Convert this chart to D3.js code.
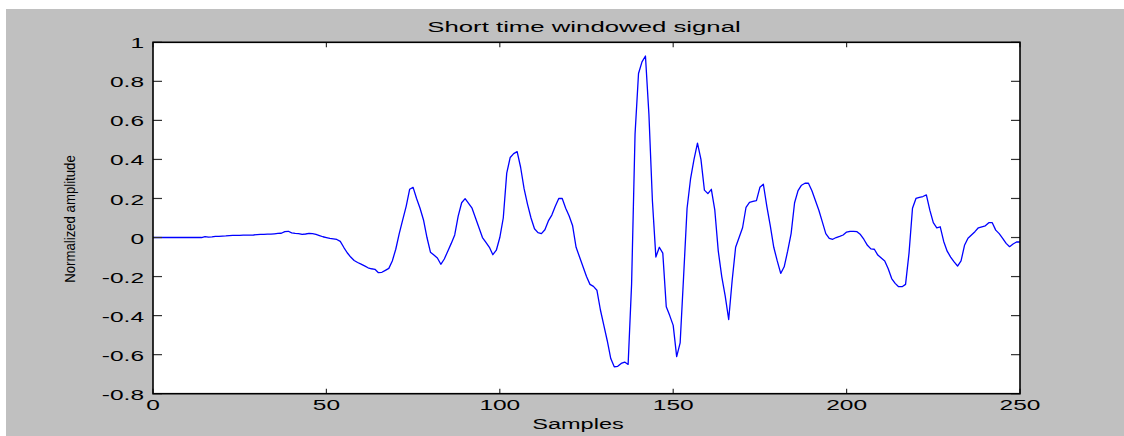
<!DOCTYPE html>
<html>
<head>
<meta charset="utf-8">
<script src="https://cdn.jsdelivr.net/npm/d3@7"></script>
<style>
  html, body { margin: 0; padding: 0; background: #ffffff; }
  svg text { font-family: "Liberation Sans", Arial, sans-serif; fill: #000; }
</style>
</head>
<body>
<svg id="chart" width="1124" height="436"></svg>
<script>

// amplitude per sample, 0..250
var amplitude = [
  0, 0, 0, 0, 0, 0, 0, 0, 0, 0,
  0, 0, 0, 0, 0, 0.005, 0.002, 0.003, 0.006, 0.006,
  0.007, 0.008, 0.01, 0.011, 0.011, 0.011, 0.012, 0.012, 0.012, 0.013,
  0.015, 0.016, 0.016, 0.017, 0.017, 0.019, 0.021, 0.022, 0.03, 0.032,
  0.024, 0.021, 0.02, 0.016, 0.018, 0.021, 0.02, 0.016, 0.01, 0.004,
  0.0, -0.004, -0.007, -0.01, -0.02, -0.05, -0.078, -0.1, -0.118, -0.128,
  -0.136, -0.145, -0.155, -0.16, -0.163, -0.18, -0.178, -0.168, -0.158, -0.12,
  -0.06, 0.02, 0.09, 0.16, 0.247, 0.257, 0.2, 0.15, 0.09, 0.0,
  -0.075, -0.09, -0.105, -0.137, -0.11, -0.07, -0.03, 0.013, 0.11, 0.178,
  0.199, 0.175, 0.15, 0.1, 0.05, 0.0, -0.025, -0.05, -0.088, -0.065,
  0.0, 0.1, 0.33, 0.41, 0.43, 0.44, 0.36, 0.25, 0.17, 0.1,
  0.045, 0.025, 0.02, 0.04, 0.085, 0.115, 0.16, 0.2, 0.2, 0.15,
  0.11, 0.06, -0.05, -0.1, -0.15, -0.2, -0.24, -0.25, -0.27, -0.37,
  -0.45, -0.53, -0.62, -0.662, -0.66, -0.645, -0.638, -0.65, -0.24, 0.53,
  0.84, 0.9, 0.93, 0.63, 0.19, -0.1, -0.05, -0.08, -0.355, -0.4,
  -0.45, -0.61, -0.54, -0.2, 0.15, 0.3, 0.4, 0.483, 0.4, 0.243,
  0.225, 0.247, 0.14, -0.07, -0.2, -0.3, -0.42, -0.22, -0.05, 0.0,
  0.05, 0.155, 0.18, 0.185, 0.189, 0.257, 0.273, 0.16, 0.06, -0.05,
  -0.12, -0.184, -0.15, -0.07, 0.02, 0.178, 0.24, 0.268, 0.278, 0.278,
  0.24, 0.19, 0.14, 0.08, 0.02, -0.004, -0.009, 0.0, 0.006, 0.013,
  0.028, 0.032, 0.032, 0.03, 0.015, -0.01, -0.04, -0.058, -0.06, -0.09,
  -0.105, -0.12, -0.16, -0.21, -0.235, -0.252, -0.252, -0.24, -0.08, 0.15,
  0.2, 0.206, 0.21, 0.218, 0.14, 0.076, 0.05, 0.055, -0.02, -0.07,
  -0.1, -0.125, -0.146, -0.12, -0.04, -0.004, 0.013, 0.03, 0.05, 0.055,
  0.06, 0.076, 0.076, 0.038, 0.02, -0.004, -0.03, -0.047, -0.033, -0.023,
  -0.023
];

var xTicks = [0, 50, 100, 150, 200, 250];
var yTicks = [-0.8, -0.6, -0.4, -0.2, 0, 0.2, 0.4, 0.6, 0.8, 1];
var yTickLabels = ['-0.8', '-0.6', '-0.4', '-0.2', '0', '0.2', '0.4', '0.6', '0.8', '1'];

var title = 'Short time windowed signal';
var xTitle = 'Samples';
var yTitle = 'Normalized amplitude';

var margin = {top: 42.3, right: 104, bottom: 42.3, left: 153};
var width = 1124 - margin.left - margin.right;
var height = 436 - margin.top - margin.bottom;
var stretch = 1.75;   // the picture's text is wide

var svg = d3.select('#chart');

// grey figure background
svg.append('rect')
   .attr('x', 6).attr('y', 9)
   .attr('width', 1124 - 6).attr('height', 436 - 9)
   .attr('fill', '#c0c0c0');

var x = d3.scaleLinear().domain([0, 250]).range([0, width]);
var y = d3.scaleLinear().domain([-0.8, 1]).range([height, 0]);

var g = svg.append('g')
           .attr('transform', 'translate(' + margin.left + ',' + margin.top + ')');

g.append('rect')
 .attr('width', width).attr('height', height)
 .attr('fill', '#ffffff');

// signal
var line = d3.line().x((d, i) => x(i)).y(d => y(d));

g.append('path')
 .datum(amplitude)
 .attr('fill', 'none')
 .attr('stroke', '#0000ff')
 .attr('stroke-width', 1.3)
 .attr('stroke-linejoin', 'round')
 .attr('d', line);

// inward ticks, left and right
g.selectAll('.ytick-l')
 .data(yTicks)
 .enter()
 .append('line')
 .attr('x1', 0).attr('x2', 9)
 .attr('y1', d => y(d)).attr('y2', d => y(d))
 .attr('stroke', '#333').attr('stroke-width', 1.2);

g.selectAll('.ytick-r')
 .data(yTicks)
 .enter()
 .append('line')
 .attr('x1', width - 9).attr('x2', width)
 .attr('y1', d => y(d)).attr('y2', d => y(d))
 .attr('stroke', '#333').attr('stroke-width', 1.2);

// inward ticks, bottom and top
g.selectAll('.xtick-b')
 .data(xTicks)
 .enter()
 .append('line')
 .attr('x1', d => x(d)).attr('x2', d => x(d))
 .attr('y1', height).attr('y2', height - 5)
 .attr('stroke', '#333').attr('stroke-width', 1.2);

g.selectAll('.xtick-t')
 .data(xTicks)
 .enter()
 .append('line')
 .attr('x1', d => x(d)).attr('x2', d => x(d))
 .attr('y1', 0).attr('y2', 5)
 .attr('stroke', '#333').attr('stroke-width', 1.2);

// box
g.append('rect')
 .attr('width', width).attr('height', height)
 .attr('fill', 'none')
 .attr('stroke', '#000')
 .attr('stroke-width', 1.6);

// tick labels
g.selectAll('.ylabel')
 .data(yTicks)
 .enter()
 .append('text')
 .attr('text-anchor', 'end')
 .attr('font-size', 14)
 .attr('dy', '0.36em')
 .attr('transform', d => 'translate(-9,' + (y(d) + 1) + ') scale(' + stretch + ',1)')
 .text((d, i) => yTickLabels[i]);

g.selectAll('.xlabel')
 .data(xTicks)
 .enter()
 .append('text')
 .attr('text-anchor', 'middle')
 .attr('font-size', 14)
 .attr('transform', d => 'translate(' + x(d) + ',' + (height + 16.5) + ') scale(' + stretch + ',1)')
 .text(d => d);

// titles
svg.append('text')
   .attr('text-anchor', 'middle')
   .attr('font-size', 14)
   .attr('transform', 'translate(584,32) scale(1.84,1)')
   .text(title);

svg.append('text')
   .attr('text-anchor', 'middle')
   .attr('font-size', 14)
   .attr('transform', 'translate(578,429) scale(1.68,1)')
   .text(xTitle);

svg.append('text')
   .attr('text-anchor', 'middle')
   .attr('font-size', 15)
   .attr('transform', 'translate(74.5,219) rotate(-90) scale(0.88,1)')
   .text(yTitle);

</script>
</body>
</html>
